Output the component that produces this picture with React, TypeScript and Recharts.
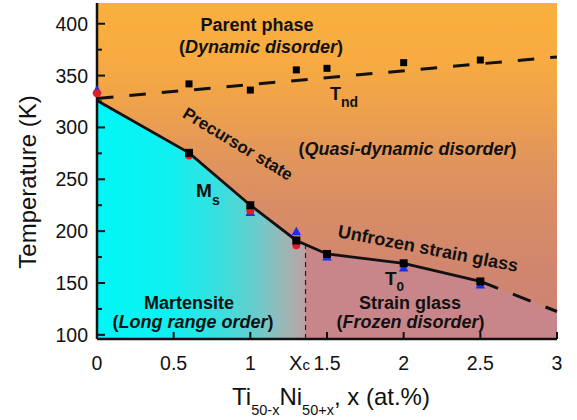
import React from 'react';
import {
  ComposedChart,
  XAxis,
  YAxis,
  Line,
  Area,
  Scatter,
  ReferenceLine,
  ReferenceDot,
  CartesianGrid,
} from 'recharts';

const FONT = "'Liberation Sans', Arial, Helvetica, sans-serif";
const INK = '#111111';

// ---------------- data ----------------
const XC = 1.36; // critical composition
const XC_T = 187.5; // temperature of the Ms/T0 line at Xc
const X_TICKS = [0, 0.5, 1, XC, 1.5, 2, 2.5, 3];
const Y_TICKS = [100, 125, 150, 175, 200, 225, 250, 275, 300, 325, 350, 375, 400];
const X_DOMAIN: [number, number] = [0, 3];
const Y_DOMAIN: [number, number] = [96, 420];

const tndLine = [
  { x: 0, y: 328 },
  { x: 3, y: 368 },
];
const tndSquares = [
  { x: 0.6, y: 342 },
  { x: 1, y: 336 },
  { x: 1.3, y: 355.5 },
  { x: 1.5, y: 357 },
  { x: 2, y: 362.5 },
  { x: 2.5, y: 365 },
];
const msT0Line = [
  { x: 0, y: 326 },
  { x: 0.6, y: 275.5 },
  { x: 1, y: 225 },
  { x: 1.3, y: 191 },
  { x: 1.5, y: 178 },
  { x: 2, y: 169 },
  { x: 2.5, y: 151.5 },
];
const t0Extrapolated = [
  { x: 2.5, y: 151.5 },
  { x: 3, y: 122.5 },
];
const martensiteRegion = [
  { x: 0, y: 326 },
  { x: 0.6, y: 275.5 },
  { x: 1, y: 225 },
  { x: 1.3, y: 191 },
  { x: XC, y: XC_T },
];
const strainGlassRegion = [
  { x: XC, y: XC_T },
  { x: 1.5, y: 178 },
  { x: 2, y: 169 },
  { x: 2.5, y: 151.5 },
  { x: 3, y: 122.5 },
];
const transitionSquares = [
  { x: 0.6, y: 275.5 },
  { x: 1, y: 225 },
  { x: 1.3, y: 191 },
  { x: 1.5, y: 178 },
  { x: 2, y: 169 },
  { x: 2.5, y: 151.5 },
];
const redCircles = [
  { x: 0, y: 333 },
  { x: 0.6, y: 273 },
  { x: 1, y: 220 },
  { x: 1.3, y: 186.5 },
];
const blueTriangles = [
  { x: 0, y: 336 },
  { x: 1, y: 218 },
  { x: 1.3, y: 199.5 },
  { x: 1.5, y: 175 },
  { x: 2, y: 164.5 },
  { x: 2.5, y: 148 },
];

// ---------------- annotations ----------------
type Note = { x: number; y: number; render: (cx: number, cy: number) => React.ReactElement };

const bold = { fontFamily: FONT, fontWeight: 700, fill: INK } as const;

const NOTES: Note[] = [
  {
    x: 1.043,
    y: 393,
    render: (cx, cy) => (
      <text x={cx} y={cy} textAnchor="middle" fontSize={18} {...bold}>
        Parent phase
      </text>
    ),
  },
  {
    x: 1.07,
    y: 371.8,
    render: (cx, cy) => (
      <text x={cx} y={cy} textAnchor="middle" fontSize={18} {...bold}>
        (<tspan fontStyle="italic">Dynamic disorder</tspan>)
      </text>
    ),
  },
  {
    x: 1.52,
    y: 326.5,
    render: (cx, cy) => (
      <text x={cx} y={cy} fontSize={18} {...bold}>
        T<tspan dy={7} fontSize={14}>nd</tspan>
      </text>
    ),
  },
  {
    x: 2.025,
    y: 273.4,
    render: (cx, cy) => (
      <text x={cx} y={cy} textAnchor="middle" fontSize={18} {...bold}>
        (<tspan fontStyle="italic">Quasi-dynamic disorder</tspan>)
      </text>
    ),
  },
  {
    x: 0.9,
    y: 279.3,
    render: (cx, cy) => (
      <text x={cx} y={cy} textAnchor="middle" fontSize={17} transform={`rotate(31 ${cx} ${cy})`} {...bold}>
        Precursor state
      </text>
    ),
  },
  {
    x: 0.646,
    y: 233,
    render: (cx, cy) => (
      <text x={cx} y={cy} fontSize={19} {...bold}>
        M<tspan dy={8} fontSize={14}>s</tspan>
      </text>
    ),
  },
  {
    x: 2.152,
    y: 177.5,
    render: (cx, cy) => (
      <text x={cx} y={cy} textAnchor="middle" fontSize={18} transform={`rotate(11 ${cx} ${cy})`} {...bold}>
        Unfrozen strain glass
      </text>
    ),
  },
  {
    x: 1.878,
    y: 148.5,
    render: (cx, cy) => (
      <text x={cx} y={cy} fontSize={19} {...bold}>
        T<tspan dy={6} fontSize={13.5}>0</tspan>
      </text>
    ),
  },
  {
    x: 2.041,
    y: 124.5,
    render: (cx, cy) => (
      <text x={cx} y={cy} textAnchor="middle" fontSize={18} {...bold}>
        Strain glass
      </text>
    ),
  },
  {
    x: 2.045,
    y: 106.6,
    render: (cx, cy) => (
      <text x={cx} y={cy} textAnchor="middle" fontSize={18} {...bold}>
        (<tspan fontStyle="italic">Frozen disorder</tspan>)
      </text>
    ),
  },
  {
    x: 0.6,
    y: 124.5,
    render: (cx, cy) => (
      <text x={cx} y={cy} textAnchor="middle" fontSize={18} {...bold}>
        Martensite
      </text>
    ),
  },
  {
    x: 0.626,
    y: 106.6,
    render: (cx, cy) => (
      <text x={cx} y={cy} textAnchor="middle" fontSize={18} {...bold}>
        (<tspan fontStyle="italic">Long range order</tspan>)
      </text>
    ),
  },
];

// ---------------- ticks & shapes ----------------
const XTick = (props: any) => {
  const { x, y, payload } = props;
  const v = payload.value;
  if (Math.abs(v - XC) < 1e-6) {
    return (
      <text x={x - 6} y={y + 31} textAnchor="middle" fontFamily={FONT} fontSize={20} fill={INK}>
        X<tspan fontSize={15}>c</tspan>
      </text>
    );
  }
  return (
    <g>
      <line x1={x} y1={y} x2={x} y2={y - 7} stroke={INK} strokeWidth={2} />
      <text x={x} y={y + 31} textAnchor="middle" fontFamily={FONT} fontSize={19.5} fill={INK}>
        {String(v)}
      </text>
    </g>
  );
};

const YTick = (props: any) => {
  const { x, y, payload } = props;
  const v = payload.value;
  const major = v % 50 === 0;
  return (
    <g>
      <line x1={x} y1={y} x2={x + (major ? 8 : 5)} y2={y} stroke={INK} strokeWidth={2} />
      {major && (
        <text x={x - 9} y={y + 7} textAnchor="end" fontFamily={FONT} fontSize={19.5} fill={INK}>
          {String(v)}
        </text>
      )}
    </g>
  );
};

const squareShape = (p: any) => <rect x={p.cx - 4} y={p.cy - 4} width={8} height={8} fill="#000" />;
const tndSquareShape = (p: any) => <rect x={p.cx - 3.5} y={p.cy - 3.5} width={7} height={7} fill="#000" />;
const circleShape = (p: any) => <circle cx={p.cx} cy={p.cy} r={4} fill="#E31B23" />;
const triangleShape = (p: any) => (
  <polygon
    points={`${p.cx},${p.cy - 5} ${p.cx - 4.8},${p.cy + 3.5} ${p.cx + 4.8},${p.cy + 3.5}`}
    fill="#1B2FEF"
  />
);

const axisLine = { stroke: INK, strokeWidth: 2.5 };

export default function App() {
  return (
    <div style={{ position: 'absolute', left: 0, top: 0, width: 577, height: 420, background: '#fff' }}>
      <ComposedChart width={577} height={420} margin={{ top: 3, right: 20, bottom: 0, left: 0 }}>
        <defs>
          <linearGradient id="bgGrad" x1="0" y1="0" x2="0" y2="1">
            <stop offset="0" stopColor="#F9AF3D" />
            <stop offset="0.15" stopColor="#F8AC40" />
            <stop offset="0.3" stopColor="#EFA24A" />
            <stop offset="0.45" stopColor="#E2965A" />
            <stop offset="0.6" stopColor="#D98D65" />
            <stop offset="0.8" stopColor="#D0866E" />
            <stop offset="1" stopColor="#CB8276" />
          </linearGradient>
          <linearGradient id="martGrad" x1="0" y1="0" x2="1" y2="0">
            <stop offset="0" stopColor="#00F7F7" />
            <stop offset="0.35" stopColor="#10F0F0" />
            <stop offset="0.6" stopColor="#3CDEDE" />
            <stop offset="0.78" stopColor="#6FCACA" />
            <stop offset="0.9" stopColor="#9DB6B6" />
            <stop offset="1" stopColor="#BBA2A3" />
          </linearGradient>
        </defs>
        <CartesianGrid horizontal={false} vertical={false} fill="url(#bgGrad)" fillOpacity={1} />

        <XAxis
          dataKey="x"
          type="number"
          domain={X_DOMAIN}
          ticks={X_TICKS}
          interval={0}
          tickSize={0}
          tickMargin={0}
          tickLine={false}
          tick={(p: any) => <XTick {...p} />}
          axisLine={axisLine}
          height={81}
          label={{
            content: (p: any) => {
              const vb = p.viewBox;
              return (
                <text
                  x={vb.x + vb.width / 2 + 4}
                  y={vb.y + 66}
                  textAnchor="middle"
                  fontFamily={FONT}
                  fontSize={24}
                  fill={INK}
                >
                  Ti<tspan dy={10} fontSize={14.5}>50-x</tspan>
                  <tspan dy={-10}>Ni</tspan>
                  <tspan dy={10} fontSize={14.5}>50+x</tspan>
                  <tspan dy={-10}>, x (at.%)</tspan>
                </text>
              );
            },
          }}
        />
        <XAxis
          xAxisId="top"
          orientation="top"
          type="number"
          domain={X_DOMAIN}
          height={0}
          tick={false}
          tickLine={false}
          axisLine={axisLine}
        />
        <YAxis
          dataKey="y"
          type="number"
          domain={Y_DOMAIN}
          ticks={Y_TICKS}
          interval={0}
          tickSize={0}
          tickMargin={0}
          tickLine={false}
          tick={(p: any) => <YTick {...p} />}
          axisLine={axisLine}
          width={97}
          label={{
            content: (p: any) => {
              const vb = p.viewBox;
              const cx = vb.x + 36;
              const cy = vb.y + vb.height / 2 + 11;
              return (
                <text
                  x={cx}
                  y={cy}
                  transform={`rotate(-90 ${cx} ${cy})`}
                  textAnchor="middle"
                  fontFamily={FONT}
                  fontSize={24}
                  fill={INK}
                >
                  Temperature (K)
                </text>
              );
            },
          }}
        />
        <YAxis
          yAxisId="right"
          orientation="right"
          type="number"
          domain={Y_DOMAIN}
          width={0}
          tick={false}
          tickLine={false}
          axisLine={axisLine}
        />

        <Area
          data={martensiteRegion}
          dataKey="y"
          type="linear"
          stroke="none"
          fill="url(#martGrad)"
          fillOpacity={1}
          baseValue={Y_DOMAIN[0]}
          dot={false}
          activeDot={false}
          isAnimationActive={false}
        />
        <Area
          data={strainGlassRegion}
          dataKey="y"
          type="linear"
          stroke="none"
          fill="#C8868A"
          fillOpacity={1}
          baseValue={Y_DOMAIN[0]}
          dot={false}
          activeDot={false}
          isAnimationActive={false}
        />

        <ReferenceLine
          segment={[
            { x: XC, y: Y_DOMAIN[0] },
            { x: XC, y: XC_T },
          ]}
          stroke="#222"
          strokeWidth={1.2}
          strokeDasharray="5 4"
          ifOverflow="visible"
        />

        <Line
          data={tndLine}
          dataKey="y"
          type="linear"
          stroke={INK}
          strokeWidth={3}
          strokeDasharray="16.5 16"
          dot={false}
          activeDot={false}
          isAnimationActive={false}
        />
        <Line
          data={msT0Line}
          dataKey="y"
          type="linear"
          stroke={INK}
          strokeWidth={2.8}
          dot={false}
          activeDot={false}
          isAnimationActive={false}
        />
        <Line
          data={t0Extrapolated}
          dataKey="y"
          type="linear"
          stroke={INK}
          strokeWidth={3}
          strokeDasharray="19 16"
          dot={false}
          activeDot={false}
          isAnimationActive={false}
        />

        <Scatter data={blueTriangles} shape={triangleShape} isAnimationActive={false} />
        <Scatter data={redCircles} shape={circleShape} isAnimationActive={false} />
        <Scatter data={transitionSquares} shape={squareShape} isAnimationActive={false} />
        <Scatter data={tndSquares} shape={tndSquareShape} isAnimationActive={false} />

        {NOTES.map((n, i) => (
          <ReferenceDot
            key={i}
            x={n.x}
            y={n.y}
            r={0}
            fill="none"
            stroke="none"
            ifOverflow="visible"
            label={{
              content: (p: any) => {
                const vb = p.viewBox || { x: 0, y: 0, width: 0, height: 0 };
                return n.render(vb.x + (vb.width || 0) / 2, vb.y + (vb.height || 0) / 2);
              },
            }}
          />
        ))}
      </ComposedChart>
    </div>
  );
}
